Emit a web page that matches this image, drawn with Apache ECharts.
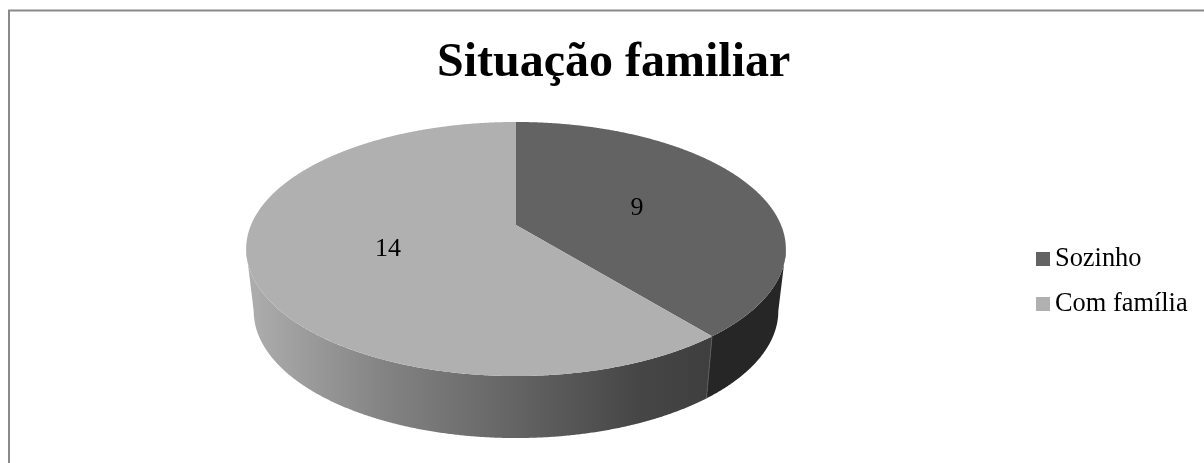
<!DOCTYPE html>
<html>
<head>
<meta charset="utf-8">
<style>html,body{margin:0;padding:0;background:#fff}#c{width:1204px;height:463px}</style>
<script src="https://cdn.jsdelivr.net/npm/echarts@6/dist/echarts.min.js"></script>
</head>
<body>
<div id="c"></div>
<script>
const chartTitle = 'Situação familiar';
const categories = ['Sozinho', 'Com família'];
const values = [9, 14];
const topColors = ['#636363', '#b0b0b0'];

const total = values.reduce((a, b) => a + b, 0);
const FONT = '"Liberation Serif","Times New Roman",serif';
// perspective disc geometry
const CX = 516, CY = 225, RX = 265, RY = 122.5, K = 0.189, DEPTH = 62, BOTTOM_SCALE = 0.972;
const labelPos = [[637, 208], [388, 249]];
const EXTREME = Math.acos(-K); // angle of the widest point of the projected disc

function project(theta, bottom) {
  const u = Math.sin(theta), v = -Math.cos(theta), d = 1 - K * v;
  const s = bottom ? BOTTOM_SCALE : 1;
  return [CX + s * RX * u / d, CY + RY * v / d + (bottom ? DEPTH : 0)];
}
function arc(a, b, bottom) {
  const n = Math.max(2, Math.ceil(Math.abs(b - a) / 0.005));
  const pts = [];
  for (let i = 0; i <= n; i++) pts.push(project(a + (b - a) * i / n, bottom));
  return pts;
}
const wallFill = [
  '#262626',
  { type: 'linear', global: true, x: 247, y: 0, x2: 707, y2: 0, colorStops: [
    { offset: 0, color: '#aeaeae' }, { offset: 0.3, color: '#838383' },
    { offset: 0.6, color: '#626262' }, { offset: 0.85, color: '#464646' },
    { offset: 1, color: '#3f3f3f' } ] }
];
function renderSlice(idx) {
  return function (params, api) {
    const val = api.value(0), start = api.value(1);
    const a = start / total * Math.PI * 2, b = (start + val) / total * Math.PI * 2;
    const wa = Math.max(a, EXTREME), wb = Math.min(b, Math.PI * 2 - EXTREME);
    const wall = arc(wa, wb, false).concat(arc(wa, wb, true).reverse());
    const top = [[CX, CY]].concat(arc(a, b, false));
    const children = [
      { type: 'polygon', shape: { points: wall }, style: { fill: wallFill[idx] }, silent: true },
      { type: 'polygon', shape: { points: top }, style: { fill: topColors[idx] }, silent: true }
    ];
    if (idx === 1) {
      const p = project(a, false), q = project(a, true);
      children.push({ type: 'line', shape: { x1: p[0], y1: p[1], x2: q[0], y2: q[1] },
        style: { stroke: '#5a5a5a', lineWidth: 1 }, silent: true });
    }
    children.push({ type: 'text', silent: true, style: {
      text: String(val), x: labelPos[idx][0], y: labelPos[idx][1],
      align: 'center', verticalAlign: 'middle', fill: '#000', font: '26px ' + FONT } });
    return { type: 'group', children };
  };
}
let cum = 0;
const series = categories.map((name, i) => {
  const s = { type: 'custom', name, coordinateSystem: 'none', silent: true,
    itemStyle: { color: topColors[i] }, renderItem: renderSlice(i),
    data: [[values[i], cum]], animation: false };
  cum += values[i];
  return s;
});
const chart = echarts.init(document.getElementById('c'), null, { renderer: 'canvas' });
chart.setOption({
  animation: false,
  backgroundColor: '#fff',
  title: { text: chartTitle, left: 437, top: 40, padding: 0,
    textStyle: { fontFamily: FONT, fontSize: 48, fontWeight: 'bold', color: '#000' } },
  legend: { orient: 'vertical', left: 1036, top: 243, padding: 0, itemWidth: 14, itemHeight: 14,
    itemGap: 13, icon: 'rect', selectedMode: false, data: categories,
    textStyle: { fontFamily: FONT, fontSize: 26.4, color: '#000', padding: [2, 0, 0, 0], lineHeight: 30 } },
  graphic: [{ type: 'polyline', silent: true, z: 0,
    shape: { points: [[9, 463], [9, 10.5], [1204, 10.5]] },
    style: { stroke: '#8a8a8a', lineWidth: 2, fill: null } }],
  series
});
</script>
</body>
</html>
